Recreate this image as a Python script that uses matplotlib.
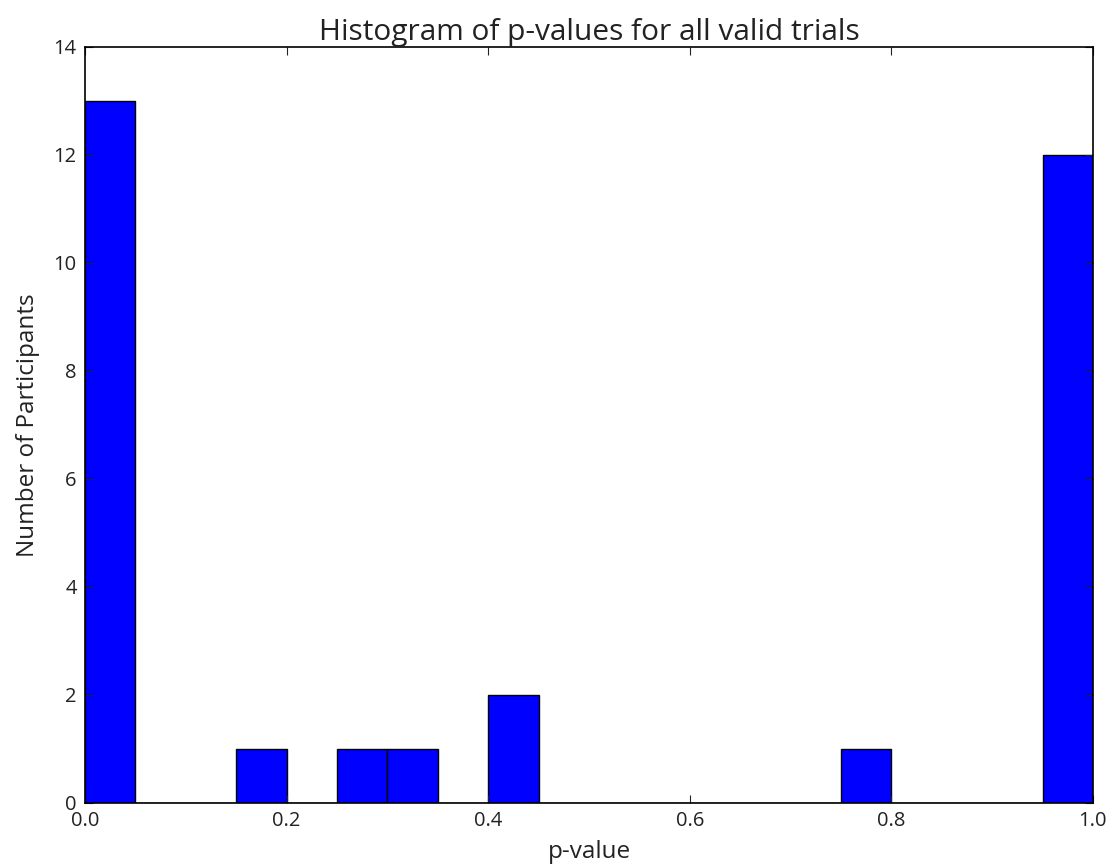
import matplotlib
matplotlib.use("Agg")
import matplotlib.pyplot as plt
import numpy as np

bin_edges = [round(0.05 * i, 2) for i in range(21)]
counts = [13, 0, 0, 1, 0, 1, 1, 0, 2, 0, 0, 0, 0, 0, 0, 1, 0, 0, 0, 12]
xticks = [0.0, 0.2, 0.4, 0.6, 0.8, 1.0]
yticks = [0, 2, 4, 6, 8, 10, 12, 14]

plt.rcParams['font.family'] = ['Open Sans', 'DejaVu Sans']
fig = plt.figure(figsize=(11.1, 8.68), dpi=100)
ax = fig.add_axes([0.0766, 0.0749, 0.908, 0.871])

lefts = np.array(bin_edges[:-1])
widths = np.diff(bin_edges)
ax.bar(lefts, counts, width=widths, align='edge', color='#0000ff',
       edgecolor='black', linewidth=1.0)

ax.set_xlim(0, 1)
ax.set_ylim(0, 14)
ax.set_xticks(xticks)
ax.set_xticklabels([f"{v:.1f}" for v in xticks])
ax.set_yticks(yticks)
ax.tick_params(direction='in', top=True, right=True, length=6, width=0.8,
               labelsize=14.5, colors='#222222', labelcolor='#222222', pad=6)
for s in ax.spines.values():
    s.set_linewidth(1.2)
    s.set_color('black')

ax.set_title("Histogram of p-values for all valid trials", fontsize=21.5,
             color='#222222', pad=5)
ax.set_xlabel("p-value", fontsize=17.5, color='#222222', labelpad=6)
ax.set_ylabel("Number of Participants", fontsize=17.5, color='#222222', labelpad=10)

fig.savefig("out.png", dpi=100)
